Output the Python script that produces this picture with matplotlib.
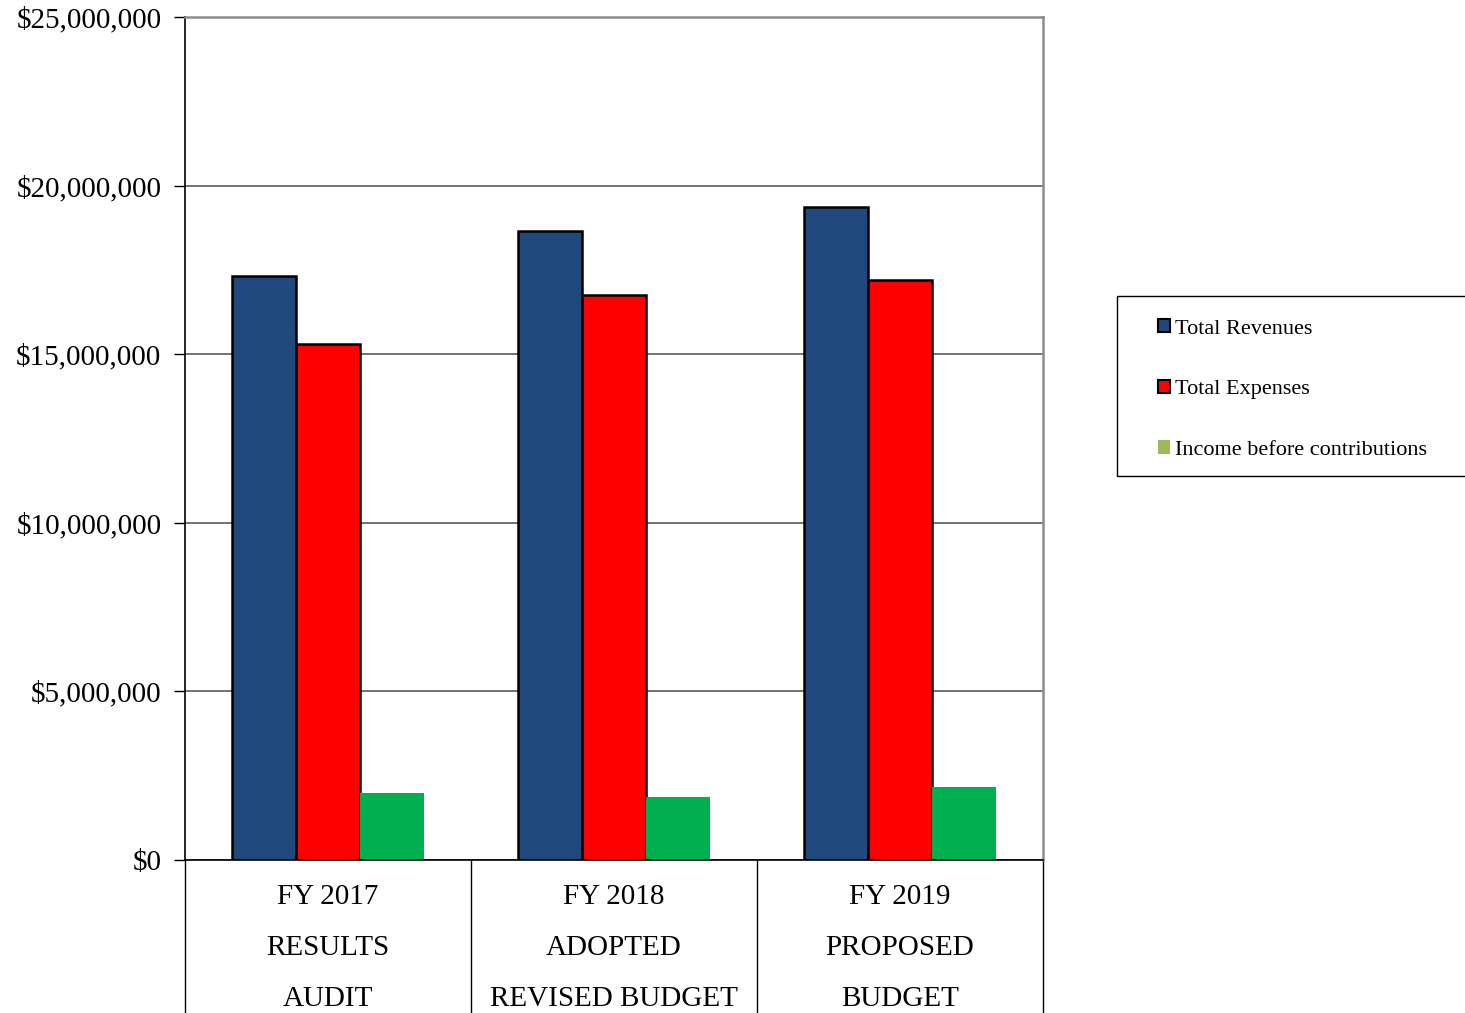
import numpy as np
import matplotlib
matplotlib.use("Agg")
import matplotlib.pyplot as plt
from matplotlib.patches import Patch, Rectangle
from matplotlib.ticker import FuncFormatter

plt.rcParams['font.family'] = ['Liberation Serif', 'DejaVu Serif']

# data
categories = [["FY 2017", "RESULTS", "AUDIT"],
              ["FY 2018", "ADOPTED", "REVISED BUDGET"],
              ["FY 2019", "PROPOSED", "BUDGET"]]
series_names = ["Total Revenues", "Total Expenses", "Income before contributions"]
revenues = [17320000, 18650000, 19370000]
expenses = [15300000, 16760000, 17200000]
income = [1990000, 1870000, 2160000]

bar_colors = ["#1F497D", "#FF0000", "#00B050"]
legend_colors = ["#1F497D", "#FF0000", "#9BBB59"]

fig = plt.figure(figsize=(14.65, 10.13), dpi=100)
ax = fig.add_axes([185 / 1465, 1 - 860 / 1013, (1043 - 185) / 1465, (860 - 17) / 1013])

x = np.arange(len(categories))
w = 0.224
ax.bar(x - w, revenues, w, color=bar_colors[0], edgecolor="black", linewidth=1.8, zorder=3)
ax.bar(x, expenses, w, color=bar_colors[1], edgecolor="black", linewidth=1.8, zorder=3)
ax.bar(x + w, income, w, color=bar_colors[2], linewidth=0, zorder=3)

ax.set_xlim(-0.5, len(categories) - 0.5)
ax.set_ylim(0, 25000000)
ax.set_yticks(np.arange(0, 25000001, 5000000))
ax.yaxis.set_major_formatter(FuncFormatter(lambda v, p: f"${v:,.0f}"))
ax.tick_params(axis="y", direction="out", length=8, width=1, pad=9, labelsize=21)
ax.set_xticks([])
ax.grid(axis="y", color="#5a5a5a", linewidth=1.2, zorder=0)

for side in ["top", "right"]:
    ax.spines[side].set_color("#8c8c8c")
    ax.spines[side].set_linewidth(1.8)
for side in ["left", "bottom"]:
    ax.spines[side].set_color("black")
    ax.spines[side].set_linewidth(1.2)
ax.spines["bottom"].set_zorder(4)

# category labels and separators below the axis
trans = ax.get_xaxis_transform()
for i, lines in enumerate(categories):
    for j, line in enumerate(lines):
        ax.annotate(line, xy=(i, 0), xycoords=trans, xytext=(0, -27 - 36.7 * j),
                    textcoords="offset points", ha="center", va="center", fontsize=21)
for b in np.arange(len(categories) + 1) - 0.5:
    ax.plot([b, b], [0, -0.25], transform=trans, color="black", linewidth=1, clip_on=False)

# legend
handles = [Patch(facecolor=legend_colors[0], edgecolor="black", linewidth=1.5),
           Patch(facecolor=legend_colors[1], edgecolor="black", linewidth=1.5),
           Patch(facecolor=legend_colors[2], edgecolor="none")]
leg = fig.legend(handles, series_names, loc="upper left",
                 bbox_to_anchor=(1158 / 1465, 1 - 319 / 1013), fontsize=16,
                 frameon=False, handlelength=0.55, handleheight=0.55,
                 handletextpad=0.2, labelspacing=1.85, borderpad=0, borderaxespad=0)
fig.patches.append(Rectangle((1117 / 1465, 1 - 476 / 1013), 400 / 1465, 180 / 1013,
                             transform=fig.transFigure, facecolor="none",
                             edgecolor="black", linewidth=1))

fig.savefig("out.png", dpi=100)
